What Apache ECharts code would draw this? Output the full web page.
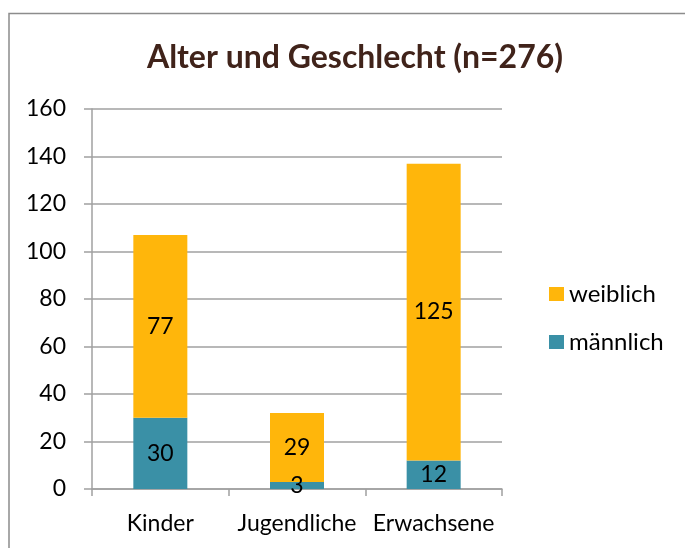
<!DOCTYPE html>
<html lang="de">
<head>
    <meta charset="UTF-8">
    <title>Alter und Geschlecht</title>
    <script src="https://cdn.jsdelivr.net/npm/echarts@6/dist/echarts.min.js"></script>
    <style>
        html, body { margin: 0; padding: 0; background: #fff; }
    </style>
</head>
<body>
<div id="main" style="width: 685px;height:548px;"></div>
<script>
    var categories = ['Kinder', 'Jugendliche', 'Erwachsene'];
    var maennlich = [30, 3, 12];
    var weiblich = [77, 29, 125];
    var yTicks = [0, 20, 40, 60, 80, 100, 120, 140, 160];

    var fontName = 'Lato, "Open Sans", sans-serif';

    var myChart = echarts.init(document.getElementById('main'));
    option = {
        backgroundColor: '#fff',
        textStyle: { fontFamily: fontName },
        graphic: [
            {
                type: 'polyline',
                shape: { points: [[9, 560], [9, 13.5], [700, 13.5]] },
                style: { fill: null, stroke: '#8c8c8c', lineWidth: 1.5 },
                silent: true
            }
        ],
        title: {
            text: 'Alter und Geschlecht (n=276)',
            left: 350,
            top: 37,
            textAlign: 'center',
            textStyle: {
                fontFamily: fontName,
                fontSize: 32,
                fontWeight: 'bold',
                color: '#40231A'
            }
        },
        legend: {
            data: ['weiblich', 'männlich'],
            orient: 'vertical',
            left: 544,
            top: 277,
            itemWidth: 15,
            itemHeight: 14,
            itemGap: 24,
            icon: 'rect',
            textStyle: { fontFamily: fontName, fontSize: 24, color: '#000' }
        },
        grid: {
            left: 92,
            right: 183,
            top: 109,
            bottom: 59,
            containLabel: false
        },
        xAxis: {
            type: 'category',
            data: categories,
            boundaryGap: true,
            axisLine: { lineStyle: { color: '#a0a0a0', width: 1.5 } },
            axisTick: { show: true, length: 7, lineStyle: { color: '#a0a0a0', width: 1.5 } },
            axisLabel: {
                fontFamily: fontName,
                fontSize: 23,
                color: '#000',
                margin: 23,
                interval: 0,
                hideOverlap: false
            }
        },
        yAxis: {
            type: 'value',
            min: yTicks[0],
            max: yTicks[yTicks.length - 1],
            interval: 20,
            axisLine: { show: true, lineStyle: { color: '#a0a0a0', width: 1.5 } },
            axisTick: { show: true, length: 8, lineStyle: { color: '#a0a0a0', width: 1.5 } },
            splitLine: { show: true, lineStyle: { color: '#a0a0a0', width: 1.5 } },
            axisLabel: { fontFamily: fontName, fontSize: 23, color: '#000', margin: 26 }
        },
        series: [
            {
                name: 'männlich',
                type: 'bar',
                stack: 'total',
                barWidth: 54,
                data: maennlich,
                itemStyle: { color: '#3A90A6' },
                label: {
                    show: true,
                    position: 'inside',
                    fontFamily: fontName,
                    fontSize: 23,
                    color: '#000'
                }
            },
            {
                name: 'weiblich',
                type: 'bar',
                stack: 'total',
                barWidth: 54,
                data: weiblich,
                itemStyle: { color: '#FFB60B' },
                label: {
                    show: true,
                    position: 'inside',
                    fontFamily: fontName,
                    fontSize: 23,
                    color: '#000'
                }
            }
        ]
    };

    myChart.setOption(option);
</script>

</body>
</html>
